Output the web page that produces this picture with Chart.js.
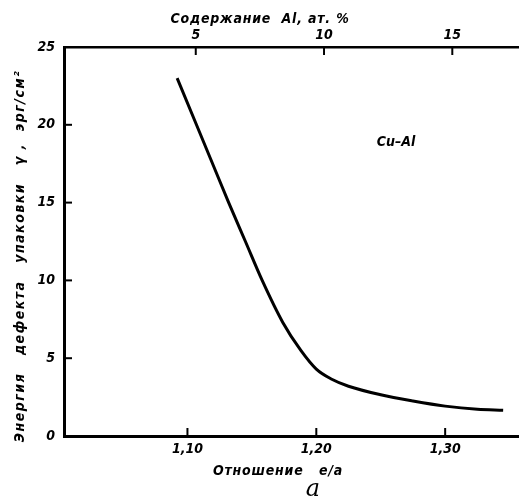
<!DOCTYPE html>
<html>
<head>
<meta charset="utf-8">
<script src="https://cdn.jsdelivr.net/npm/chart.js@4"></script>
<style>
html,body{margin:0;padding:0;background:#fff;}
#wrap{width:519px;height:501px;position:relative;}
</style>
</head>
<body>
<div id="wrap"><canvas id="c" width="519" height="501"></canvas></div>
<script>
// ---- data ----
const eaValues    = [1.092, 1.107, 1.120, 1.132, 1.145, 1.158, 1.174, 1.188, 1.200, 1.212, 1.225, 1.250, 1.275, 1.300, 1.325, 1.345];
const gammaValues = [23.0, 20.0, 17.4, 15.0, 12.5, 10.0, 7.3, 5.5, 4.3, 3.65, 3.2, 2.65, 2.25, 1.92, 1.72, 1.66];
const eaTicks = [1.10, 1.20, 1.30];
const alTicks = [5, 10, 15];
const yTicks  = [0, 5, 10, 15, 20, 25];

const FONT = "'Liberation Sans Narrow','DejaVu Sans Condensed','Liberation Sans',sans-serif";

const innerTicks = {
  id: 'innerTicks',
  afterDraw(chart) {
    const ctx = chart.ctx;
    const a = chart.chartArea;
    const sx = chart.scales.x, st = chart.scales.xTop, sy = chart.scales.y;
    ctx.save();
    ctx.strokeStyle = '#000';
    ctx.lineWidth = 2;
    const L = 8;
    eaTicks.forEach(v => { const p = sx.getPixelForValue(v); ctx.beginPath(); ctx.moveTo(p, a.bottom); ctx.lineTo(p, a.bottom - L); ctx.stroke(); });
    alTicks.forEach(v => { const p = st.getPixelForValue(v); ctx.beginPath(); ctx.moveTo(p, a.top); ctx.lineTo(p, a.top + L); ctx.stroke(); });
    yTicks.slice(1, -1).forEach(v => { const p = sy.getPixelForValue(v); ctx.beginPath(); ctx.moveTo(a.left, p); ctx.lineTo(a.left + L, p); ctx.stroke(); });

    ctx.fillStyle = '#000';
    ctx.textAlign = 'center';
    ctx.textBaseline = 'middle';
    ctx.font = 'italic bold 14px ' + FONT;
    ctx.letterSpacing = '0.8px';
    ctx.fillText('Содержание  Al, ат. %', 260, 19);
    ctx.fillText('Отношение   e/a', 278, 471);
    ctx.letterSpacing = '0px';
    ctx.fillText('Cu–Al', 396, 142);
    ctx.font = 'italic 24px "DejaVu Serif", serif';
    ctx.fillText('a', 313, 490);

    ctx.translate(20, 256);
    ctx.rotate(-Math.PI / 2);
    ctx.font = 'italic bold 14px ' + FONT;
    ctx.letterSpacing = '1.5px';
    ctx.fillText('Энергия   дефекта   упаковки   γ ,  эрг/см²', 0, 0);
    ctx.restore();
  }
};

new Chart(document.getElementById('c'), {
  type: 'line',
  data: {
    datasets: [{
      data: eaValues.map((x, i) => ({ x: x, y: gammaValues[i] })),
      borderColor: '#000',
      borderWidth: 3,
      pointRadius: 0,
      cubicInterpolationMode: 'monotone',
      fill: false
    }]
  },
  options: {
    responsive: false,
    animation: false,
    devicePixelRatio: 1,
    layout: { padding: 0 },
    plugins: { legend: { display: false }, tooltip: { enabled: false } },
    scales: {
      x: {
        type: 'linear', position: 'bottom',
        min: 1.0042, max: 1.3573,
        afterBuildTicks: s => { s.ticks = eaTicks.map(v => ({ value: v })); },
        afterFit: s => { s.height = 65; },
        grid: { drawOnChartArea: false, drawTicks: false },
        border: { display: true, color: '#000', width: 3 },
        ticks: { padding: 5, color: '#000', font: { family: FONT, size: 14, style: 'italic', weight: 'bold' },
                 callback: v => v.toFixed(2).replace('.', ',') }
      },
      xTop: {
        type: 'linear', position: 'top',
        min: -0.136, max: 17.6,
        afterBuildTicks: s => { s.ticks = alTicks.map(v => ({ value: v })); },
        afterFit: s => { s.height = 47; },
        grid: { drawOnChartArea: false, drawTicks: false },
        border: { display: true, color: '#000', width: 2.5 },
        ticks: { padding: 3, color: '#000', font: { family: FONT, size: 14, style: 'italic', weight: 'bold' },
                 callback: v => String(v) }
      },
      y: {
        type: 'linear', position: 'left',
        min: 0, max: 25,
        afterBuildTicks: s => { s.ticks = yTicks.map(v => ({ value: v })); },
        afterFit: s => { s.width = 64; },
        grid: { drawOnChartArea: false, drawTicks: false },
        border: { display: true, color: '#000', width: 3 },
        ticks: { padding: 9, color: '#000', font: { family: FONT, size: 14, style: 'italic', weight: 'bold' },
                 callback: v => String(v) }
      }
    }
  },
  plugins: [innerTicks]
});
</script>
</body>
</html>
